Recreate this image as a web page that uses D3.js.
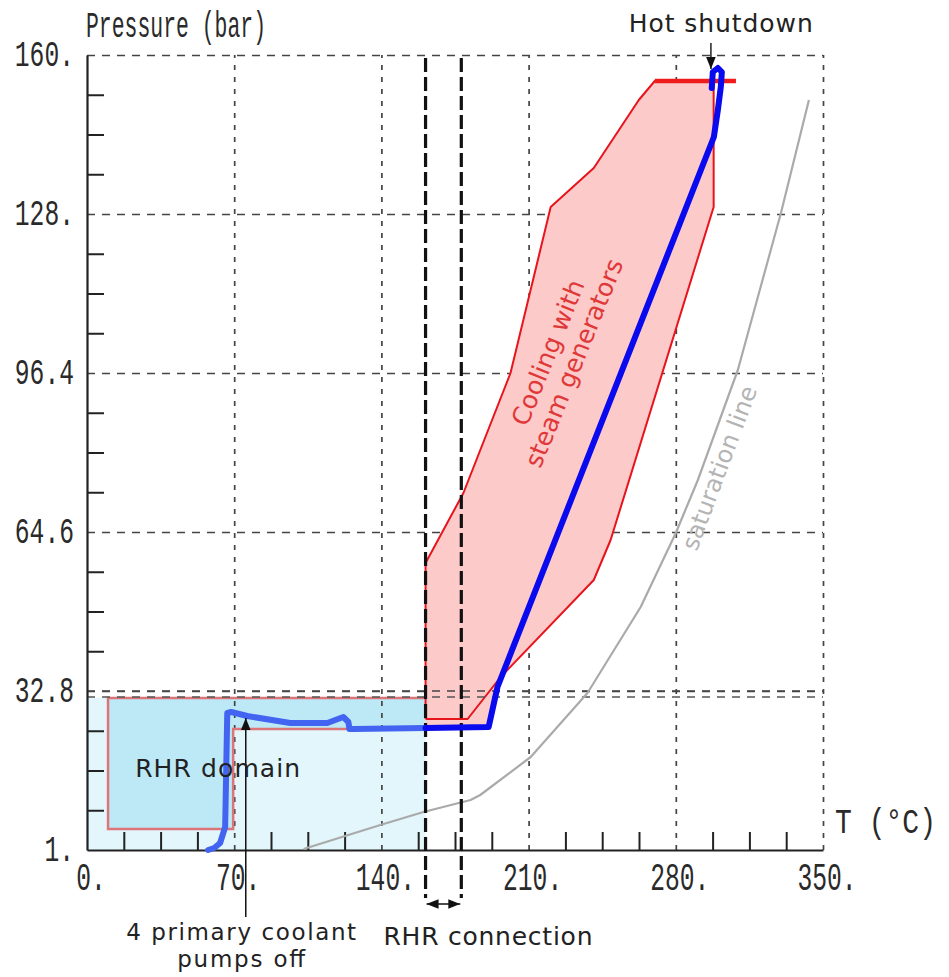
<!DOCTYPE html>
<html><head><meta charset="utf-8">
<script src="https://cdn.jsdelivr.net/npm/d3@7"></script>
<style>
body{margin:0;background:#fff;}
svg{display:block;}
.hershey{font-family:"Liberation Mono","DejaVu Sans Mono",monospace;fill:#2a2a2a;}
.ann{font-family:"DejaVu Sans",sans-serif;fill:#222;}
</style></head><body>
<svg id="c" width="949" height="977"></svg>
<script>
// ---- data ----
const xMajor = [0, 70, 140, 210, 280, 350];
const xMajorLabels = ["0.", "70.", "140.", "210.", "280.", "350."];
const yMajor = [1, 32.8, 64.6, 96.4, 128.2, 160];
const yMajorLabels = ["1.", "32.8", "64.6", "96.4", "128.", "160."];
const xMinor = [17.5, 35, 52.5, 87.5, 105, 122.5, 157.5, 175, 192.5, 227.5, 245, 262.5, 297.5, 315, 332.5];
const yMinor = [8.95, 16.9, 24.85, 40.75, 48.7, 56.65, 72.55, 80.5, 88.45, 104.35, 112.3, 120.25, 136.15, 144.1, 152.05];

// saturation line (T in °C, P in bar)
const satT = [103, 139.5, 160, 182.4, 187, 211, 238, 263.3, 280, 290.5, 309.5, 330, 343.3];
const satP = [1.2, 6.0, 8.6, 11, 12, 19.6, 32.4, 49.6, 64.4, 75, 97, 128.4, 151];

// cooldown trajectory, RHR part
const rhrTrajT = [57.6, 60.5, 63.3, 65.7, 66.7, 68.6, 76.2, 96.7, 114.3, 121.9, 124.3, 124.8, 126.7, 161];
const rhrTrajP = [1.0, 1.4, 2.4, 5.6, 28.4, 28.6, 27.8, 26.4, 26.4, 27.6, 26.6, 25.2, 25.2, 25.4];
// cooldown trajectory, steam generator part
const sgTrajT = [161, 191, 195.2, 298.1, 300, 301.4, 301.9, 300, 297.6, 297.1];
const sgTrajP = [25.4, 25.6, 33.6, 143.6, 149, 153.6, 156.6, 157.4, 156.6, 153.4];

// "cooling with steam generators" envelope
const sgEnvT = [161, 181, 196.7, 241, 249, 298, 298, 270, 262.4, 241, 220.5, 201.4, 179, 161, 161];
const sgEnvP = [27.2, 27.2, 35.6, 55, 63, 129.6, 154.8, 154.8, 151, 137.4, 129.6, 96.4, 72.4, 58.4, 27.2];
const sgFillT = [161, 190, 196.7, 241, 249, 298, 298, 270, 262.4, 241, 220.5, 201.4, 179, 161];
const sgFillP = [25.4, 25.6, 35.6, 55, 63, 129.6, 154.8, 154.8, 151, 137.4, 129.6, 96.4, 72.4, 58.4];
const sgTopT = [270, 308.6];
const sgTopP = [154.8, 154.8];

// RHR domain
const rhrOuterT = [0, 161], rhrOuterP = [1, 31.4];
const rhrInnerT = [10, 161, 161, 69.5, 69.5, 10];
const rhrInnerP = [31.4, 31.4, 25.2, 25.2, 5.2, 5.2];
const rhrBorderT = [161, 10, 10, 69.5, 69.5, 124];
const rhrBorderP = [31.4, 31.4, 5.2, 5.2, 25.2, 25.2];
const rhrConnT = [161, 178];
const extraGridP = [31.6];

// ---- drawing ----
const svg = d3.select('#c');
const x = d3.scaleLinear().domain([0, 350]).range([87, 823]);
const y = d3.scaleLinear().domain([1, 160]).range([850, 55]);
const zip = (a, b) => a.map((v, i) => [v, b[i]]);
const line = d3.line().x(d => x(d[0])).y(d => y(d[1]));

// RHR light region
svg.append('rect')
  .attr('x', x(rhrOuterT[0])).attr('y', y(rhrOuterP[1]))
  .attr('width', x(rhrOuterT[1]) - x(rhrOuterT[0]))
  .attr('height', y(rhrOuterP[0]) - y(rhrOuterP[1]))
  .attr('fill', '#e2f6fc');
svg.append('path').attr('d', line(zip(rhrInnerT, rhrInnerP)) + 'Z').attr('fill', '#bde9f7');

// gridlines
const gx = svg.append('g').attr('transform', `translate(0,${y(1)})`)
  .call(d3.axisBottom(x).tickValues(xMajor.slice(1)).tickSize(-(y(1) - y(160))).tickFormat(''));
gx.select('.domain').remove();
gx.selectAll('line').attr('stroke', '#444').attr('stroke-width', 1.7).attr('stroke-dasharray', '5,7');
const gy = svg.append('g').attr('transform', `translate(${x(0)},0)`)
  .call(d3.axisLeft(y).tickValues(yMajor.slice(1)).tickSize(-(x(350) - x(0))).tickFormat(''));
gy.select('.domain').remove();
gy.selectAll('line').attr('stroke', '#444').attr('stroke-width', 1.7).attr('stroke-dasharray', '8,7');

// steam generator envelope
svg.append('path').attr('d', line(zip(sgFillT, sgFillP)) + 'Z').attr('fill', '#fdcaca');
svg.append('path').attr('d', line(zip(sgEnvT, sgEnvP))).attr('fill', 'none')
  .attr('stroke', '#e8141c').attr('stroke-width', 2).attr('stroke-linejoin', 'round');
svg.append('path').attr('d', line(zip(sgTopT, sgTopP))).attr('fill', 'none')
  .attr('stroke', '#ee1c1c').attr('stroke-width', 4.5);

// RHR border
svg.append('path').attr('d', line(zip(rhrBorderT, rhrBorderP))).attr('fill', 'none')
  .attr('stroke', '#dc7478').attr('stroke-width', 2.5);

// extra dashed line near 32.8
svg.selectAll('.xg').data(extraGridP).enter().append('line')
  .attr('x1', x(0)).attr('x2', x(350)).attr('y1', d => y(d)).attr('y2', d => y(d))
  .attr('stroke', '#555').attr('stroke-width', 1.7).attr('stroke-dasharray', '8,7');
svg.append('line').attr('x1', x(0)).attr('x2', x(350)).attr('y1', y(32.8)).attr('y2', y(32.8))
  .attr('stroke', '#444').attr('stroke-width', 1.7).attr('stroke-dasharray', '8,7');

// minor ticks
const mx = svg.append('g').attr('transform', `translate(0,${y(1)})`)
  .call(d3.axisBottom(x).tickValues(xMinor).tickSize(-18).tickFormat('').tickSizeOuter(0));
mx.select('.domain').attr('stroke', '#222').attr('stroke-width', 2.2);
mx.selectAll('line').attr('stroke', '#222').attr('stroke-width', 2);
const my = svg.append('g').attr('transform', `translate(${x(0)},0)`)
  .call(d3.axisLeft(y).tickValues(yMinor).tickSize(-17).tickFormat('').tickSizeOuter(0));
my.select('.domain').attr('stroke', '#222').attr('stroke-width', 2.2);
my.selectAll('line').attr('stroke', '#222').attr('stroke-width', 2);

// saturation line
svg.append('path').attr('d', line(zip(satT, satP))).attr('fill', 'none')
  .attr('stroke', '#aaaaaa').attr('stroke-width', 2.2).attr('stroke-linejoin', 'round');

// RHR connection dashed lines
svg.selectAll('.rc').data(rhrConnT).enter().append('line')
  .attr('x1', d => x(d)).attr('x2', d => x(d)).attr('y1', y(159.4)).attr('y2', y(-8.6))
  .attr('stroke', '#111').attr('stroke-width', 3.2).attr('stroke-dasharray', '14,5');

// trajectory
svg.append('path').attr('d', line(zip(rhrTrajT, rhrTrajP))).attr('fill', 'none')
  .attr('stroke', '#4264f0').attr('stroke-width', 6).attr('stroke-linejoin', 'round').attr('stroke-linecap', 'round');
svg.append('path').attr('d', line(zip(sgTrajT, sgTrajP))).attr('fill', 'none')
  .attr('stroke', '#0a0aee').attr('stroke-width', 6).attr('stroke-linejoin', 'round').attr('stroke-linecap', 'round');

// arrows
const defs = svg.append('defs');
defs.append('marker').attr('id', 'ah').attr('viewBox', '0 0 10 10').attr('refX', 10).attr('refY', 5)
  .attr('markerWidth', 8).attr('markerHeight', 8).attr('orient', 'auto-start-reverse')
  .append('path').attr('d', 'M0,1 L10,5 L0,9 Z').attr('fill', '#111');
svg.append('line').attr('x1', x(75.5)).attr('x2', x(75.5)).attr('y1', y(-12.4)).attr('y2', y(27.4))
  .attr('stroke', '#111').attr('stroke-width', 1.5).attr('marker-end', 'url(#ah)');
svg.append('line').attr('x1', x(296.7)).attr('x2', x(296.7)).attr('y1', y(162.4)).attr('y2', y(157.2))
  .attr('stroke', '#222').attr('stroke-width', 1.5).attr('marker-end', 'url(#ah)');
svg.append('line').attr('x1', x(161) + 1).attr('x2', x(178) - 1).attr('y1', y(-9.8)).attr('y2', y(-9.8))
  .attr('stroke', '#111').attr('stroke-width', 1.5)
  .attr('marker-start', 'url(#ah)').attr('marker-end', 'url(#ah)');

// tick labels
svg.selectAll('.yl').data(yMajor).enter().append('text').attr('class', 'hershey')
  .attr('x', x(0) - 13).attr('y', d => y(d) + 11).attr('text-anchor', 'end')
  .attr('font-size', 36)
  .attr('textLength', (d, i) => yMajorLabels[i].length * 14.8).attr('lengthAdjust', 'spacingAndGlyphs')
  .text((d, i) => yMajorLabels[i]);
svg.selectAll('.xl').data(xMajor).enter().append('text').attr('class', 'hershey')
  .attr('x', d => x(d) + 4).attr('y', y(1) + 40).attr('text-anchor', 'middle')
  .attr('font-size', 39)
  .attr('textLength', (d, i) => xMajorLabels[i].length * 14.8).attr('lengthAdjust', 'spacingAndGlyphs')
  .text((d, i) => xMajorLabels[i]);

// axis titles
svg.append('text').attr('class', 'hershey').attr('x', x(0) - 1).attr('y', 37)
  .attr('font-size', 37).attr('textLength', 180).attr('lengthAdjust', 'spacingAndGlyphs')
  .text('Pressure (bar)');
svg.append('g').attr('transform', `translate(${x(350) + 12},${y(1) - 17}) scale(0.78,1)`)
  .append('text').attr('class', 'hershey').attr('font-size', 36).text('T (°C)');

// annotations
svg.append('text').attr('class', 'ann').attr('x', x(301.4)).attr('y', 32).attr('text-anchor', 'middle')
  .attr('font-size', 25).attr('textLength', 184).text('Hot shutdown');
svg.append('text').attr('class', 'ann').attr('x', x(22.9)).attr('y', y(15.6))
  .attr('font-size', 25).attr('textLength', 165).text('RHR domain');
svg.append('text').attr('class', 'ann').attr('x', x(73.3)).attr('y', y(-17.0)).attr('text-anchor', 'middle')
  .attr('font-size', 23).attr('textLength', 230).text('4 primary coolant');
svg.append('text').attr('class', 'ann').attr('x', x(73.3)).attr('y', y(-22.4)).attr('text-anchor', 'middle')
  .attr('font-size', 23).attr('textLength', 128).text('pumps off');
svg.append('text').attr('class', 'ann').attr('x', x(141)).attr('y', y(-18)).attr('text-anchor', 'start')
  .attr('font-size', 25).attr('textLength', 209).text('RHR connection');

const cg = svg.append('g').attr('transform', `translate(${x(225.7)},${y(99.4)}) rotate(-68)`);
cg.append('text').attr('class', 'ann').attr('text-anchor', 'middle').attr('y', -6)
  .attr('font-size', 25).style('fill', '#e03838').text('Cooling with');
cg.append('text').attr('class', 'ann').attr('text-anchor', 'middle').attr('y', 22)
  .attr('font-size', 25).style('fill', '#e03838').text('steam generators');

const sg = svg.append('g').attr('transform', `translate(${x(300.8)},${y(77.4)}) rotate(-69.5)`);
sg.append('text').attr('class', 'ann').attr('text-anchor', 'middle').attr('y', 8)
  .attr('font-size', 24).style('fill', '#b4b4b4').text('saturation line');
</script>
</body></html>
